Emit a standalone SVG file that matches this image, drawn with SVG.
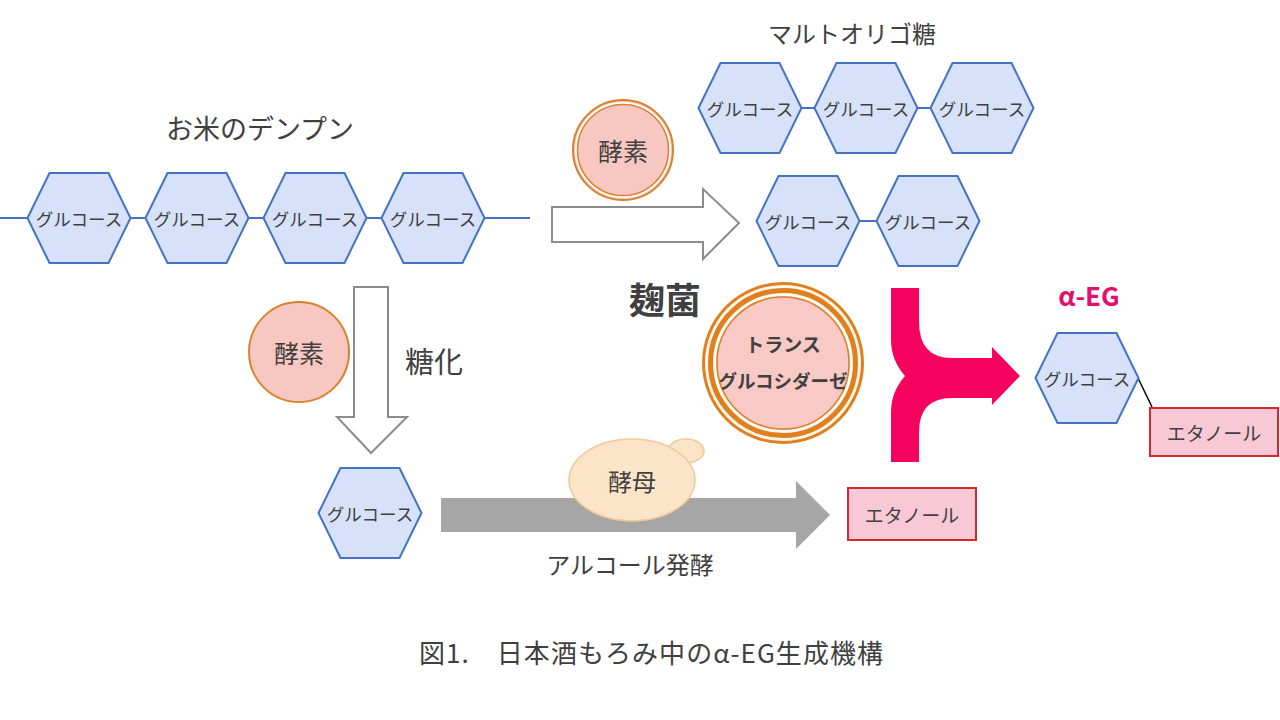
<svg xmlns="http://www.w3.org/2000/svg" xmlns:xlink="http://www.w3.org/1999/xlink" width="1280" height="720" viewBox="0 0 1280 720">
<defs>
<style>
.t{font-family:"Noto Sans CJK JP","Noto Sans",sans-serif;fill:#404040;text-anchor:middle;dominant-baseline:central}
.hexl{font-size:17.5px}
.hex{fill:#d7e1f9;stroke:#4472c4;stroke-width:2}
.lnk{stroke:#4472c4;stroke-width:2;fill:none}
.eth{fill:#f9c8d6;stroke:#d42a2a;stroke-width:2}
.hol{fill:#fff;stroke:#8c8c8c;stroke-width:2}
.b{font-weight:bold}
</style>
<polygon id="hx" points="-51.5,0 -29.5,-45 29.5,-45 51.5,0 29.5,45 -29.5,45"/>
</defs>
<rect width="1280" height="720" fill="#fff"/>

<g id="connectors">
<line class="lnk" x1="0" y1="218" x2="530" y2="218"/>
<line class="lnk" x1="800" y1="108" x2="818" y2="108"/>
<line class="lnk" x1="916" y1="108" x2="934" y2="108"/>
<line class="lnk" x1="858" y1="221" x2="878" y2="221"/>
<line x1="1138" y1="378" x2="1152" y2="407" stroke="#000" stroke-width="1.5"/>
<path id="arrow-right-hollow" class="hol" d="M552 207 L703 207 L703 189 L739 223 L703 259 L703 242 L552 242 Z"/>
<path id="arrow-down-hollow" class="hol" d="M354 287 L388 287 L388 417 L407 417 L371 453 L337 417 L354 417 Z"/>
<path id="arrow-gray" fill="#a6a6a6" d="M441 498 L796 498 L796 481 L830 515 L796 549 L796 532 L441 532 Z"/>
<path id="arrow-pink" fill="#f5035f" d="M891 288 L919 288 L919 322 Q919 358 952 358 L992 358 L992 347 L1020 376 L992 405 L992 398 L952 398 Q919 398 919 432 L919 462 L891 462 L891 412 Q891 392 905 376 Q891 360 891 340 Z"/>
</g>

<text class="t" x="260" y="127" font-size="27">お米のデンプン</text>
<text class="t" x="852" y="32" font-size="24">マルトオリゴ糖</text>

<g id="starch-1" transform="translate(79,218)"><use xlink:href="#hx" class="hex"/><text class="t hexl">グルコース</text></g>
<g id="starch-2" transform="translate(197,218)"><use xlink:href="#hx" class="hex"/><text class="t hexl">グルコース</text></g>
<g id="starch-3" transform="translate(315,218)"><use xlink:href="#hx" class="hex"/><text class="t hexl">グルコース</text></g>
<g id="starch-4" transform="translate(433,218)"><use xlink:href="#hx" class="hex"/><text class="t hexl">グルコース</text></g>

<g id="malto-1" transform="translate(750,108)"><use xlink:href="#hx" class="hex"/><text class="t hexl">グルコース</text></g>
<g id="malto-2" transform="translate(866,108)"><use xlink:href="#hx" class="hex"/><text class="t hexl">グルコース</text></g>
<g id="malto-3" transform="translate(982,108)"><use xlink:href="#hx" class="hex"/><text class="t hexl">グルコース</text></g>
<g id="malto-4" transform="translate(808,221)"><use xlink:href="#hx" class="hex"/><text class="t hexl">グルコース</text></g>
<g id="malto-5" transform="translate(928,221)"><use xlink:href="#hx" class="hex"/><text class="t hexl">グルコース</text></g>

<g id="enzyme-top">
<circle cx="623" cy="150" r="50" fill="#f8c7c2" stroke="#d9822b" stroke-width="2"/>
<circle cx="623" cy="150" r="47" fill="none" stroke="#fff" stroke-width="2"/>
<circle cx="623" cy="150" r="45.5" fill="none" stroke="#d9822b" stroke-width="1.5"/>
<text class="t" x="623" y="150" font-size="25">酵素</text>
</g>

<g id="enzyme-left">
<circle cx="299" cy="352" r="50" fill="#f8c7c2" stroke="#d9822b" stroke-width="2"/>
<text class="t" x="299" y="352" font-size="25">酵素</text>
</g>

<text class="t" x="434" y="360" font-size="29">糖化</text>

<g id="glucose-bottom" transform="translate(370,513)"><use xlink:href="#hx" class="hex"/><text class="t hexl">グルコース</text></g>

<g id="yeast">
<ellipse cx="686" cy="451" rx="18" ry="12" fill="#fce4c9" stroke="#f2c99a" stroke-width="1.5"/>
<ellipse cx="632" cy="480" rx="63" ry="41" fill="#fce4c9" stroke="#f2c99a" stroke-width="1.5"/>
<text class="t" x="632" y="480" font-size="24">酵母</text>
</g>

<text class="t" x="630" y="563" font-size="24">アルコール発酵</text>

<g id="ethanol-bottom">
<rect class="eth" x="848" y="488" width="128" height="52"/>
<text class="t" x="912" y="514" font-size="19">エタノール</text>
</g>

<text class="t b" x="665" y="298" font-size="36">麹菌</text>

<g id="transglucosidase">
<circle cx="783" cy="363" r="79.5" fill="#fff6e6" stroke="#df7f1f" stroke-width="3"/>
<circle cx="783" cy="363" r="72.5" fill="none" stroke="#df7f1f" stroke-width="5"/>
<circle cx="783" cy="363" r="68" fill="#f9c9c6" stroke="#fff" stroke-width="2"/>
<circle cx="783" cy="363" r="66" fill="#f9c9c6" stroke="#df7f1f" stroke-width="1.5"/>
<text class="t b" x="783" y="343" font-size="19" fill="#333">トランス</text>
<text class="t b" x="783" y="380" font-size="18.5" fill="#333">グルコシダーゼ</text>
</g>

<text class="t b" x="1089" y="294" font-size="26" style="fill:#e3106b">α-EG</text>

<g id="alpha-eg-glucose" transform="translate(1087,378)"><use xlink:href="#hx" class="hex"/><text class="t hexl">グルコース</text></g>

<g id="ethanol-right">
<rect class="eth" x="1150" y="408" width="128" height="48"/>
<text class="t" x="1214" y="432" font-size="19">エタノール</text>
</g>

<text class="t" x="651" y="651" font-size="26" textLength="464" lengthAdjust="spacing">図1.　日本酒もろみ中のα-EG生成機構</text>
</svg>
